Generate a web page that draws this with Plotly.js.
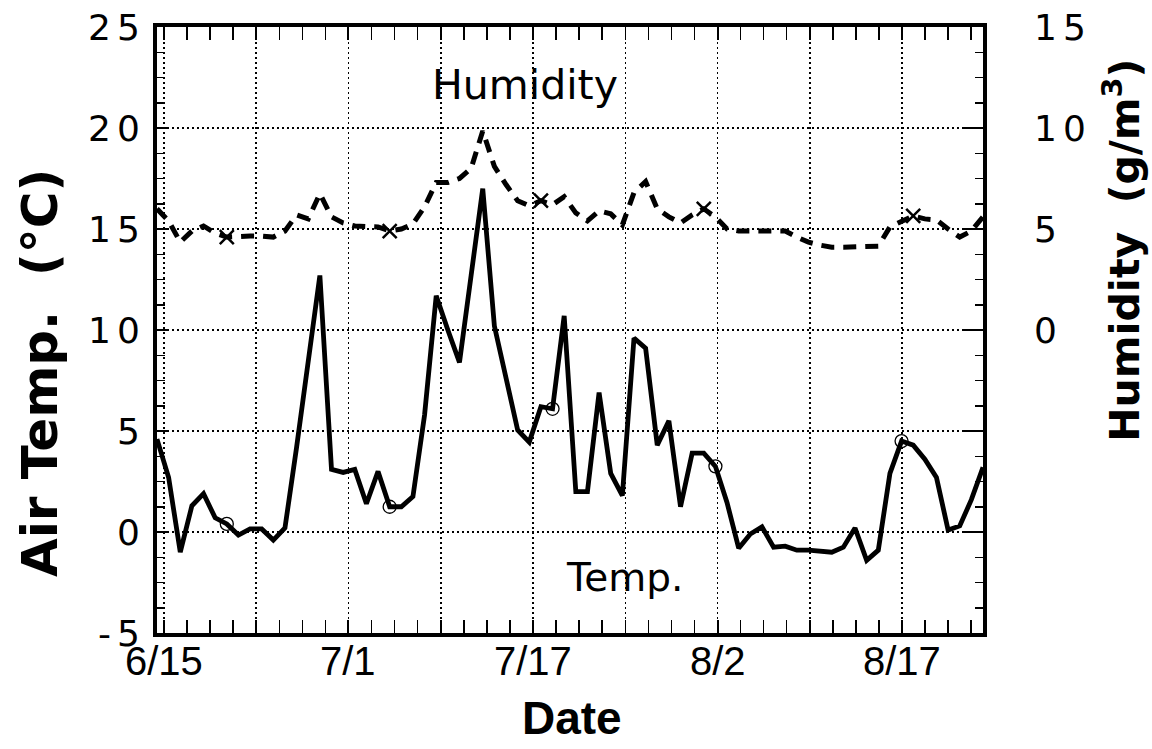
<!DOCTYPE html>
<html>
<head>
<meta charset="utf-8">
<script src="https://cdn.plot.ly/plotly-3.0.1.min.js"></script>
<style>
  html, body { margin: 0; padding: 0; background: #fff; }
  #chart { width: 1152px; height: 749px; }
  .ytick text, .y2tick text { letter-spacing: 6px; }
</style>
</head>
<body>
<div id="chart"></div>
<script>
// Daily air temperature (°C), left axis
const tempC = [4.6, 2.7, -1.0, 1.3, 1.9, 0.7, 0.4, -0.15, 0.15, 0.15,
  -0.4, 0.2, 4.2, 8.4, 12.7, 3.1, 2.95, 3.1, 1.4, 3.0,
  1.25, 1.25, 1.75, 5.8, 11.7, 10.0, 8.4, 12.7, 17.0, 10.2,
  7.7, 5.05, 4.45, 6.2, 6.1, 10.7, 2.0, 2.0, 6.9, 2.9,
  1.8, 9.6, 9.1, 4.3, 5.5, 1.25, 3.9, 3.9, 3.25, 1.45,
  -0.8, -0.1, 0.25, -0.75, -0.7, -0.9, -0.9, -0.95, -1.0, -0.75,
  0.2, -1.4, -0.9, 2.9, 4.5, 4.3, 3.6, 2.7, 0.1, 0.3,
  1.6, 3.2];
// Daily humidity (g/m3), right axis
const humidity = [6.0, 5.4, 4.35, 4.9, 5.15, 4.8, 4.6, 4.65, 4.65, 4.65,
  4.6, 4.9, 5.7, 5.5, 6.75, 5.6, 5.3, 5.15, 5.15, 5.1,
  4.9, 5.0, 5.25, 6.1, 7.3, 7.3, 7.5, 8.0, 9.85, 8.1,
  7.2, 6.4, 6.15, 6.4, 6.2, 6.6, 5.8, 5.4, 5.9, 5.75,
  5.2, 6.8, 7.35, 6.0, 5.6, 5.3, 5.7, 6.0, 5.6, 5.0,
  4.9, 4.9, 4.95, 4.9, 4.9, 4.6, 4.35, 4.2, 4.1, 4.1,
  4.1, 4.1, 4.15, 5.1, 5.4, 5.65, 5.5, 5.45, 5.0, 4.6,
  4.9, 5.6];
// Day index (0 = first day plotted)
const dayIndex = tempC.map((_, i) => i);
// Days that carry a marker symbol
const tempMarkDays = [6, 20, 34, 48, 64];
const humMarkDays = [6, 20, 33, 47, 65];
// Date axis ticks (in day-index units) and labels
const dateTickVals = [0.6, 8.53, 16.46, 24.39, 32.32, 40.25, 48.18, 56.11, 64.04];
const dateTickText = ['6/15', '', '7/1', '', '7/17', '', '8/2', '', '8/17'];
const tempTickVals = [-5, 0, 5, 10, 15, 20, 25];
const tempTickText = ['-5', '0', '5', '10', '15', '20', '25'];
const humTickVals = [-10, -5, 0, 5, 10, 15];
const humTickText = ['', '', '0', '5', '10', '15'];

const traces = [
  { x: dayIndex, y: tempC, type: 'scatter', mode: 'lines',
    line: { color: '#000', width: 4.8 }, hoverinfo: 'skip' },
  { x: dayIndex, y: humidity, type: 'scatter', mode: 'lines', yaxis: 'y2',
    line: { color: '#000', width: 5, dash: '13px,9px' }, hoverinfo: 'skip' },
  { x: tempMarkDays, y: tempMarkDays.map(d => tempC[d]), type: 'scatter', mode: 'markers',
    marker: { symbol: 'circle-open', size: 13, color: '#000', line: { width: 1.3, color: '#000' } } },
  { x: humMarkDays, y: humMarkDays.map(d => humidity[d]), type: 'scatter', mode: 'markers', yaxis: 'y2',
    marker: { symbol: 'x-thin-open', size: 14, color: '#000', line: { width: 2.5, color: '#000' } } }
];

const dateLabelFont = { family: 'Liberation Sans, Arial, sans-serif', size: 40, color: '#000' };
const dateLabels = dateTickVals
  .map((v, k) => ({ v, t: dateTickText[k] }))
  .filter(o => o.t !== '')
  .map(o => ({ text: o.t, xref: 'x', yref: 'paper', x: o.v, y: -0.046,
    xanchor: 'center', yanchor: 'middle', showarrow: false, font: dateLabelFont }));

const gridDash = '2px,3px';
const layout = {
  width: 1152, height: 749,
  margin: { l: 157, r: 169, t: 27, b: 116 },
  paper_bgcolor: '#fff', plot_bgcolor: '#fff',
  showlegend: false,
  xaxis: {
    range: [0, 71], tickmode: 'array', tickvals: dateTickVals, ticktext: dateTickText,
    showticklabels: false,
    ticks: 'inside', ticklen: 13, tickwidth: 2, tickcolor: '#000',
    showline: true, linewidth: 4, linecolor: '#000', mirror: 'allticks',
    showgrid: true, gridcolor: '#000', gridwidth: 1.5, griddash: gridDash,
    zeroline: false,
    minor: { tickmode: 'linear', tick0: 0.6, dtick: 1.9825, ticks: 'inside', ticklen: 8, tickwidth: 1.5, tickcolor: '#000', showgrid: false }
  },
  yaxis: {
    range: [-5, 25], tickmode: 'array', tickvals: tempTickVals, ticktext: tempTickText,
    ticks: 'inside', ticklen: 11, tickwidth: 2, tickcolor: '#000',
    showline: true, linewidth: 4, linecolor: '#000', mirror: 'allticks',
    showgrid: true, gridcolor: '#000', gridwidth: 1.5, griddash: gridDash,
    zeroline: false,
    minor: { tickmode: 'linear', tick0: -5, dtick: 1.25, ticks: 'inside', ticklen: 8, tickwidth: 1.5, tickcolor: '#000', showgrid: false },
    tickfont: { family: 'DejaVu Sans, sans-serif', size: 36, color: '#000' },
    ticklabelstandoff: 0
  },
  yaxis2: {
    range: [-15, 15], overlaying: 'y', side: 'right', anchor: 'x',
    tickmode: 'array', tickvals: humTickVals, ticktext: humTickText,
    ticks: 'inside', ticklen: 20, tickwidth: 2, tickcolor: '#000',
    showline: false, showgrid: false, zeroline: false,
    tickfont: { family: 'DejaVu Sans, sans-serif', size: 36, color: '#000' },
    ticklabelstandoff: 50
  },
  annotations: dateLabels.concat([
    { text: 'Humidity', xref: 'paper', yref: 'paper', x: 0.4455, y: 0.904,
      xanchor: 'center', yanchor: 'middle', showarrow: false,
      font: { family: 'DejaVu Sans, sans-serif', size: 41, color: '#000' } },
    { text: 'Temp.', xref: 'paper', yref: 'paper', x: 0.5654, y: 0.0924,
      xanchor: 'center', yanchor: 'middle', showarrow: false,
      font: { family: 'DejaVu Sans, sans-serif', size: 39, color: '#000' } },
    { text: '<b>Air Temp.\u00a0\u00a0(°C)</b>', xref: 'paper', yref: 'paper', x: -0.1416, y: 0.429,
      xanchor: 'center', yanchor: 'middle', textangle: -90, showarrow: false,
      font: { family: 'DejaVu Sans, sans-serif', size: 50, color: '#000' } },
    { text: '<b>Humidity\u00a0\u00a0(g/m<sup>3</sup>)</b>', xref: 'paper', yref: 'paper', x: 1.168, y: 0.632,
      xanchor: 'center', yanchor: 'middle', textangle: -90, showarrow: false,
      font: { family: 'DejaVu Sans, sans-serif', size: 41, color: '#000' } },
    { text: '<b>Date</b>', xref: 'paper', yref: 'paper', x: 0.502, y: -0.14,
      xanchor: 'center', yanchor: 'middle', showarrow: false,
      font: { family: 'Liberation Sans, Arial, sans-serif', size: 46, color: '#000' } }
  ])
};

Plotly.newPlot('chart', traces, layout, { staticPlot: true, displayModeBar: false });
</script>
</body>
</html>
